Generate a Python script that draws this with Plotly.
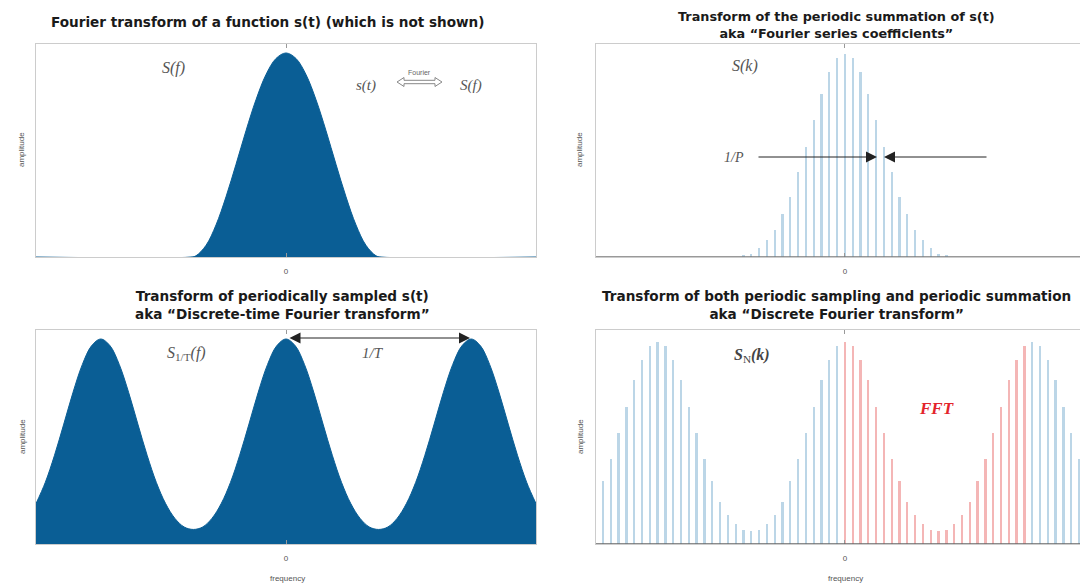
import plotly.graph_objects as go

# ---------------- data ----------------
# top-left: continuous spectrum S(f)
tl_x = [-1.0, -0.38, -0.36, -0.32, -0.28, -0.24, -0.20, -0.16, -0.12, -0.08, -0.04, 0.0,
        0.04, 0.08, 0.12, 0.16, 0.20, 0.24, 0.28, 0.32, 0.36, 0.38, 1.0]
tl_y = [0.0, 0.0, 0.006, 0.057, 0.157, 0.295, 0.454, 0.619, 0.771, 0.894, 0.973, 1.0,
        0.973, 0.894, 0.771, 0.619, 0.454, 0.295, 0.157, 0.057, 0.006, 0.0, 0.0]

# top-right: Fourier series coefficients S(k)
tr_k = [-13, -12, -11, -10, -9, -8, -7, -6, -5, -4, -3, -2, -1, 0,
        1, 2, 3, 4, 5, 6, 7, 8, 9, 10, 11, 12, 13]
tr_y = [0.008, 0.016, 0.046, 0.082, 0.132, 0.214, 0.296, 0.419, 0.543, 0.674, 0.806, 0.913, 0.979, 1.0,
        0.979, 0.913, 0.806, 0.674, 0.543, 0.419, 0.296, 0.214, 0.132, 0.082, 0.046, 0.016, 0.008]

# bottom-left: DTFT S_1/T(f)
bl_x = [-0.999, -0.962, -0.925, -0.888, -0.851, -0.814, -0.777, -0.74, -0.703, -0.666,
        -0.629, -0.592, -0.555, -0.518, -0.481, -0.444, -0.407, -0.37, -0.333, -0.296,
        -0.259, -0.222, -0.185, -0.148, -0.111, -0.074, -0.037, 0.0,
        0.037, 0.074, 0.111, 0.148, 0.185, 0.222, 0.259, 0.296, 0.333, 0.37,
        0.407, 0.444, 0.481, 0.518, 0.555, 0.592, 0.629, 0.666, 0.703, 0.74,
        0.777, 0.814, 0.851, 0.888, 0.925, 0.962, 0.999]
bl_y = [0.197, 0.300, 0.433, 0.585, 0.740, 0.875, 0.967, 1.0, 0.967, 0.875,
        0.740, 0.585, 0.433, 0.300, 0.197, 0.125, 0.083, 0.071, 0.083, 0.125,
        0.197, 0.300, 0.433, 0.585, 0.740, 0.875, 0.967, 1.0,
        0.967, 0.875, 0.740, 0.585, 0.433, 0.300, 0.197, 0.125, 0.083, 0.071,
        0.083, 0.125, 0.197, 0.300, 0.433, 0.585, 0.740, 0.875, 0.967, 1.0,
        0.967, 0.875, 0.740, 0.585, 0.433, 0.300, 0.197]

# bottom-right: DFT S_N(k)
br_k = list(range(-31, 31))
br_y = [0.31, 0.42, 0.55, 0.68, 0.81, 0.91, 0.98, 1.0, 0.98, 0.91, 0.81, 0.68, 0.55, 0.42,
        0.31, 0.21, 0.145, 0.10, 0.068, 0.065, 0.068, 0.10, 0.145, 0.21, 0.31, 0.42, 0.55,
        0.68, 0.81, 0.91, 0.98,
        1.0, 0.98, 0.91, 0.81, 0.68, 0.55, 0.42, 0.31, 0.21, 0.145, 0.10, 0.068, 0.065,
        0.068, 0.10, 0.145, 0.21, 0.31, 0.42, 0.55, 0.68, 0.81, 0.91, 0.98,
        1.0, 0.98, 0.91, 0.81, 0.68, 0.55, 0.42]
fft_start, fft_n = 0, 24

tick_vals = [0]
tick_text = ["0"]

# ---------------- style ----------------
OFF = 8                      # page body margin in the browser
W, H = 1088 - OFF, 588 - OFF
DARK = "#0a5e95"
LBLUE = "#bcd6e7"
LRED = "#f4b6b6"
FRAME = "#cccccc"
GREY = "#555555"


def px(x):
    return (x - OFF) / W


def py(y):
    return 1 - (y - OFF) / H


fig = go.Figure()

fig.add_trace(go.Scatter(x=tl_x, y=tl_y, mode="lines", fill="tozeroy",
                         line=dict(color=DARK, width=1, shape="spline"),
                         fillcolor=DARK, xaxis="x", yaxis="y", hoverinfo="skip"))
fig.add_trace(go.Bar(x=tr_k, y=tr_y, width=0.3, marker=dict(color=LBLUE, line=dict(width=0)),
                     xaxis="x2", yaxis="y2"))
fig.add_trace(go.Scatter(x=bl_x, y=bl_y, mode="lines", fill="tozeroy",
                         line=dict(color=DARK, width=1, shape="spline"),
                         fillcolor=DARK, xaxis="x3", yaxis="y3", hoverinfo="skip"))
br_colors = [LRED if fft_start <= k < fft_start + fft_n else LBLUE for k in br_k]
fig.add_trace(go.Bar(x=br_k, y=br_y, width=0.3, marker=dict(color=br_colors, line=dict(width=0)),
                     xaxis="x4", yaxis="y4"))

# domains (pixels)
left_dom = [px(36), px(536)]
right_dom = [px(596), min(1.0, px(1086))]
top_dom = [py(257), py(44)]
bot_dom = [py(544), py(330)]

xcommon = dict(showgrid=False, zeroline=False, showline=True, mirror="ticks", linecolor=FRAME,
               linewidth=1, tickvals=tick_vals, ticktext=tick_text, ticks="inside", ticklen=4,
               tickcolor="#999999", tickfont=dict(family="Liberation Sans", size=8, color=GREY),
               ticklabelstandoff=6, fixedrange=True)
ycommon = dict(showgrid=False, zeroline=False, showline=True, mirror=True, linecolor=FRAME,
               linewidth=1, showticklabels=False, ticks="", fixedrange=True)

fig.update_layout(
    width=W, height=H, margin=dict(l=0, r=0, t=0, b=0),
    paper_bgcolor="white", plot_bgcolor="white", showlegend=False, bargap=0,
    xaxis=dict(domain=left_dom, anchor="y", range=[-1.0, 1.0], **xcommon),
    yaxis=dict(domain=top_dom, anchor="x", range=[0, 1.044], **ycommon),
    xaxis2=dict(domain=right_dom, anchor="y2", range=[-31.9, 30.9], **xcommon),
    yaxis2=dict(domain=top_dom, anchor="x2", range=[0, 1.05], **ycommon),
    xaxis3=dict(domain=left_dom, anchor="y3", range=[-0.999, 0.999], **xcommon),
    yaxis3=dict(domain=bot_dom, anchor="x3", range=[0, 1.044], **ycommon),
    xaxis4=dict(domain=right_dom, anchor="y4", range=[-31.9, 30.9], **xcommon),
    yaxis4=dict(domain=bot_dom, anchor="x4", range=[0, 1.06], **ycommon),
)

# baselines
for xr, yr, col in [("x2", "y2", "#777777"), ("x4", "y4", "#666666")]:
    fig.add_shape(type="line", xref=xr + " domain", yref=yr, x0=0, x1=1, y0=0, y1=0,
                  line=dict(color=col, width=1.5), layer="above")

# hollow "Fourier" double arrow
pts = [(397, 82), (404, 77.5), (404, 80.3), (435, 80.3), (435, 77.5), (442, 82),
       (435, 86.5), (435, 83.7), (404, 83.7), (404, 86.5)]
path = "M " + " L ".join(f"{px(a):.5f},{py(b):.5f}" for a, b in pts) + " Z"
fig.add_shape(type="path", xref="paper", yref="paper", path=path,
              line=dict(color="#888888", width=1), fillcolor="rgba(0,0,0,0)")

ann = []


def title(x, y, text, size=13.6):
    ann.append(dict(x=px(x), y=py(y), xref="paper", yref="paper", text=text, showarrow=False,
                    font=dict(family="DejaVu Sans", size=size, color="#1a1a1a"),
                    xanchor="center", yanchor="middle"))


title(268, 22, "<b>Fourier transform of a function s(t) (which is not shown)</b>")
title(836, 25, "<b>Transform of the periodic summation of s(t)<br>aka “Fourier series coefficients”</b>", 12.8)
title(282, 305, "<b>Transform of periodically sampled s(t)<br>aka “Discrete-time Fourier transform”</b>")
title(836, 305, "<b>Transform of both periodic sampling and periodic summation<br>aka “Discrete Fourier transform”</b>")

SMALL = dict(family="Liberation Sans", size=8, color=GREY)
for x, y in [(22, 150), (580, 150), (22, 437), (580, 437)]:
    ann.append(dict(x=px(x), y=py(y), xref="paper", yref="paper", text="amplitude", textangle=-90,
                    showarrow=False, font=SMALL, xanchor="center", yanchor="middle"))
for x in [287, 845]:
    ann.append(dict(x=px(x), y=py(578), xref="paper", yref="paper", text="frequency",
                    showarrow=False, font=SMALL, xanchor="center", yanchor="middle"))

MATH = dict(family="Liberation Serif", size=16, color="#555555")


def label(x, y, text, font=MATH):
    ann.append(dict(x=px(x), y=py(y), xref="paper", yref="paper", text=text, showarrow=False,
                    font=font, xanchor="center", yanchor="middle"))


label(173, 68, "<i>S(f)</i>")
label(366, 86, "<i>s(t)</i>", dict(family="Liberation Serif", size=15, color="#555555"))
label(419, 73, "Fourier", dict(family="Liberation Sans", size=7, color="#666666"))
label(471, 86, "<i>S(f)</i>", dict(family="Liberation Serif", size=15, color="#555555"))
label(745, 66, "<i>S(k)</i>")
label(734, 157, "<i>1/P</i>", dict(family="Liberation Serif", size=14, color="#555555"))
label(186, 353, "<i>S</i><sub>1/T</sub><i>(f)</i>")
label(373, 353, "<i>1/T</i>", dict(family="Liberation Serif", size=15, color="#555555"))
label(752, 355, "<b><i>S</i></b><sub>N</sub><b><i>(k)</i></b>", dict(family="Liberation Serif", size=16, color="#444444"))
label(936, 408, "<b><i>FFT</i></b>", dict(family="Liberation Serif", size=17, color="#e3242b"))

# arrows
ARR = dict(showarrow=True, arrowhead=2, arrowsize=2.2, arrowwidth=1, arrowcolor="#222222",
           xref="paper", yref="paper", axref="pixel", ayref="pixel", text="")
ann.append(dict(x=px(877), y=py(157), ax=-(877 - 757), ay=0, **ARR))
ann.append(dict(x=px(884), y=py(157), ax=(988 - 884), ay=0, **ARR))
ann.append(dict(x=px(470), y=py(338), ax=-(470 - 288), ay=0, arrowside="end+start", **ARR))

fig.update_layout(annotations=ann)
fig.write_html("out.html")
